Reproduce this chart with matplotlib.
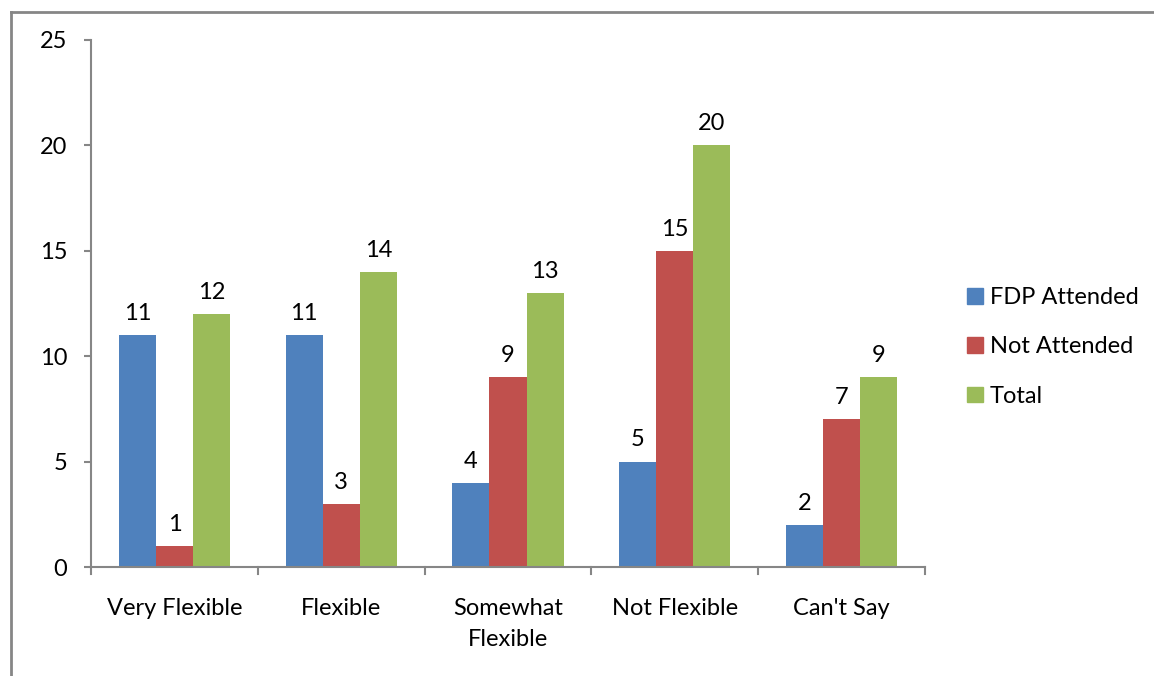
import matplotlib
matplotlib.use("Agg")
import matplotlib.pyplot as plt
from matplotlib.lines import Line2D
import numpy as np

categories = ["Very Flexible", "Flexible", "Somewhat\nFlexible", "Not Flexible", "Can't Say"]
series_names = ["FDP Attended", "Not Attended", "Total"]
fdp_attended = [11, 11, 4, 5, 2]
not_attended = [1, 3, 9, 15, 7]
total = [12, 14, 13, 20, 9]
y_ticks = [0, 5, 10, 15, 20, 25]

colors = ["#4F81BD", "#C0504D", "#9BBB59"]
font = "Lato"
plt.rcParams['font.family'] = [font, 'DejaVu Sans']
fs = 17

fig = plt.figure(figsize=(11.54, 6.76), dpi=100)
ax = fig.add_axes([91/1154, 109/676, (925-91)/1154, (567-40)/676])

x = np.arange(len(categories))
w = 0.222
for i, (vals, name) in enumerate(zip([fdp_attended, not_attended, total], series_names)):
    pos = x + (i - 1) * w
    bars = ax.bar(pos, vals, width=w, color=colors[i], label=name, zorder=2)
    for b, v in zip(bars, vals):
        ax.annotate(str(v), (b.get_x() + b.get_width()/2, v), xytext=(0, 8),
                    textcoords="offset points", ha="center", va="bottom", fontsize=fs)

ax.set_xlim(-0.5, len(categories) - 0.5)
ax.set_ylim(0, 25)
ax.set_yticks(y_ticks)
ax.set_yticklabels([str(t) for t in y_ticks], fontsize=fs)
ax.set_xticks(x)
ax.set_xticklabels(categories, fontsize=fs, linespacing=1.6)
ax.tick_params(axis='x', length=0, pad=22)
ax.tick_params(axis='y', length=5, width=1.5, color="#868686", pad=12)
for t in np.arange(-0.5, len(categories), 1.0):
    ax.plot([t, t], [0, -0.35], color="#868686", lw=1.5, clip_on=False, zorder=3)

for s in ["top", "right"]:
    ax.spines[s].set_visible(False)
for s in ["left", "bottom"]:
    ax.spines[s].set_color("#868686")
    ax.spines[s].set_linewidth(1.5)

handles = [plt.Rectangle((0, 0), 1, 1, color=c) for c in colors]
leg = fig.legend(handles, series_names, loc="center left", bbox_to_anchor=(946/1154, 1 - 347/676),
                 frameon=False, fontsize=fs, handlelength=0.65, handleheight=0.65,
                 handletextpad=0.3, labelspacing=1.2)

# outer chart border (left and top visible)
fig.add_artist(Line2D([11/1154, 11/1154], [0, 1 - 12/676], transform=fig.transFigure,
                      color="#868686", lw=2))
fig.add_artist(Line2D([11/1154, 1], [1 - 12/676, 1 - 12/676], transform=fig.transFigure,
                      color="#868686", lw=2))

fig.savefig("out.png", dpi=100)
